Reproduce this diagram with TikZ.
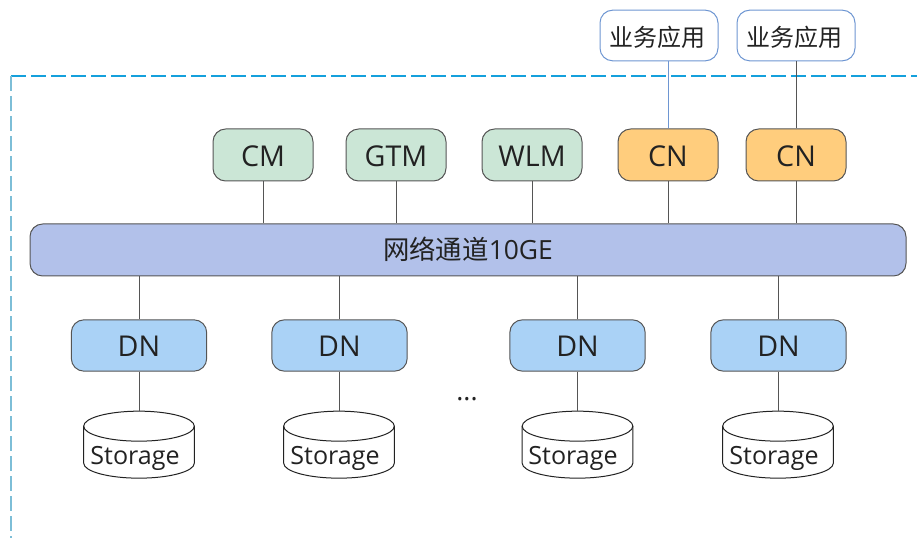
\documentclass[tikz,border=0pt]{standalone}
\usepackage{fontspec}
\setmainfont{Open Sans}
\newfontfamily\cjk{Noto Sans CJK SC}
\usetikzlibrary{calc}
\definecolor{txt}{HTML}{222222}
\definecolor{edge}{HTML}{555555}
\definecolor{appblue}{RGB}{110,150,210}
\definecolor{dashA}{RGB}{20,160,220}
\definecolor{dashB}{RGB}{125,190,215}
\tikzset{
  px/.style={x=0.75pt,y=-0.75pt},
  boxbase/.style={rectangle,rounded corners=9.5pt,draw=edge,line width=0.75pt,text=txt,inner sep=0pt,font=\fontsize{21.5}{25}\selectfont,text height=17.2pt,text depth=0pt},
  greenbox/.style={boxbase,fill={rgb,255:red,203;green,230;blue,214},minimum width=75pt,minimum height=39pt},
  orangebox/.style={boxbase,fill={rgb,255:red,255;green,205;blue,125},minimum width=75pt,minimum height=39pt},
  bluebox/.style={boxbase,fill={rgb,255:red,170;green,210;blue,246},minimum width=101.5pt,minimum height=38.5pt},
  busbox/.style={boxbase,fill={rgb,255:red,178;green,193;blue,234},minimum width=657pt,minimum height=39pt,font=\fontsize{19.8}{23}\selectfont,text height=15pt,text depth=0pt},
  appbox/.style={boxbase,draw=appblue,fill=white,minimum width=88.5pt,minimum height=38pt,font=\fontsize{18}{21}\cjk\selectfont,text height=18.2pt,text depth=1.5pt},
  storbody/.style={draw=txt,fill=white,line width=0.75pt},
  storanchor/.style={rectangle,minimum width=83pt,minimum height=50pt,inner sep=0pt,outer sep=0pt},
  storlabel/.style={text=txt,inner sep=0pt,font=\fontsize{18.8}{22}\selectfont},
  link/.style={draw=edge,line width=0.75pt},
  applink/.style={draw=appblue,line width=0.75pt},
  dashtop/.style={draw=dashA,line width=0.85pt,dash pattern=on 11pt off 4pt},
  dashleft/.style={draw=dashB,line width=1pt,dash pattern=on 11pt off 4pt},
}
% cylinder drawn round a named anchor node: #1 name, #2 x
\newcommand{\storcyl}[2]{%
  \node[storanchor] (#1) at (#2,444.5) {};
  \draw[storbody] (#1.north west) ++(0,15) -- ++(0,37)
     arc[start angle=180,end angle=360,x radius=41.5pt,y radius=11.25pt]
     -- ++(0,-37)
     arc[start angle=0,end angle=180,x radius=41.5pt,y radius=11.25pt] -- cycle;
  \draw[storbody,fill=none] (#1.north west) ++(0,15)
     arc[start angle=180,end angle=360,x radius=41.5pt,y radius=11.25pt];
}
\begin{document}
\begin{tikzpicture}[px]
\useasboundingbox (0,0) rectangle (917,538);
\coordinate (corner) at (11,76);
\coordinate (cornerR) at (917,76);
\coordinate (cornerB) at (11,538);
\draw[dashtop] (corner) -- (cornerR);
\draw[dashleft] (corner) -- (cornerB);

\node[appbox] (app1) at (659,35.5) {业务应用\kern3pt};
\node[appbox] (app2) at (796,35.5) {业务应用\kern3pt};

\node[greenbox] (cm) at (263,155) {CM};
\node[greenbox] (gtm) at (396,155) {GTM};
\node[greenbox] (wlm) at (532,155) {WLM};
\node[orangebox] (cn1) at (668,155) {CN};
\node[orangebox] (cn2) at (796,155) {CN};

\node[busbox] (bus) at (468,250) {{\cjk 网络通道}10GE};

\node[bluebox] (dn1) at (139,345.5) {DN};
\node[bluebox] (dn2) at (339.5,345.5) {DN};
\node[bluebox] (dn3) at (577.5,345.5) {DN};
\node[bluebox] (dn4) at (778.5,345.5) {DN};

\storcyl{s1}{139}
\storcyl{s2}{339}
\storcyl{s3}{577.5}
\storcyl{s4}{778}
\node[storlabel] (l1) at (135,458) {Storage};
\node[storlabel] (l2) at (335,458) {Storage};
\node[storlabel] (l3) at (573,458) {Storage};
\node[storlabel] (l4) at (774,458) {Storage};

\node[text=txt,inner sep=0pt,font=\fontsize{20}{24}\selectfont] (dots) at (467,399) {...};

\draw[applink] (cn1.north) -- (cn1.north |- app1.south);
\draw[link] (cn2.north) -- (app2.south);
\foreach \n in {cm,gtm,wlm,cn1,cn2}{\draw[link] (\n.south) -- (\n.south |- bus.north);}
\foreach \n in {dn1,dn2,dn3,dn4}{\draw[link] (\n.north) -- (\n.north |- bus.south);}
\draw[link] (dn1.south) -- (dn1.south |- s1.north);
\draw[link] (dn2.south) -- (dn2.south |- s2.north);
\draw[link] (dn3.south) -- (dn3.south |- s3.north);
\draw[link] (dn4.south) -- (dn4.south |- s4.north);
\end{tikzpicture}
\end{document}
